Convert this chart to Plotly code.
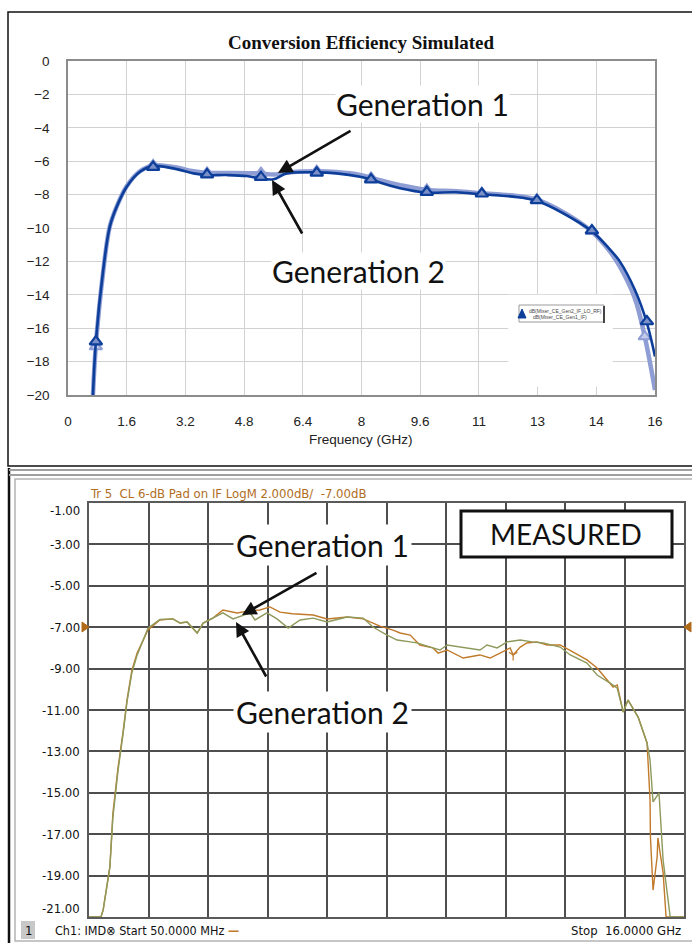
import plotly.graph_objects as go

W, H = 692, 943

# ---------------- DATA: simulated (top) ----------------
sim_gen2_f = [0.68, 0.76, 0.96, 1.14, 1.33, 1.60, 1.96, 2.32, 2.87, 3.42, 3.78, 4.32, 4.87, 5.23, 5.60, 5.96,
              6.78, 7.32, 7.96, 8.32, 8.50, 9.05, 9.77, 10.59, 11.27, 12.13, 12.77, 13.50, 14.27, 14.77, 15.04,
              15.45, 15.78, 16.0]
sim_gen2_db = [-20, -16.8, -12.5, -9.92, -8.72, -7.53, -6.63, -6.29, -6.43, -6.73, -6.83, -6.83, -6.89, -7.03,
               -7.08, -6.73, -6.67, -6.73, -6.93, -7.13, -7.28, -7.62, -7.88, -7.86, -7.98, -8.12, -8.37, -9.12,
               -10.18, -11.28, -12.0, -13.7, -15.69, -17.7]
sim_gen1_f = [0.68, 0.76, 0.96, 1.14, 1.33, 1.60, 1.96, 2.32, 2.87, 3.42, 3.78, 4.32, 4.87, 5.23, 5.60, 5.96,
              6.78, 7.32, 7.96, 8.50, 9.05, 9.77, 10.59, 11.27, 12.13, 12.77, 13.50, 14.27, 14.77, 15.04, 15.45,
              15.72, 16.0]
sim_gen1_db = [-20, -17.0, -12.6, -9.9, -8.7, -7.5, -6.6, -6.25, -6.35, -6.6, -6.7, -6.7, -6.72, -6.72, -6.8,
               -6.68, -6.6, -6.65, -6.82, -7.13, -7.43, -7.72, -7.8, -7.92, -8.06, -8.3, -9.05, -10.2, -11.4,
               -12.3, -14.2, -16.5, -19.7]
marker_f = [0.76, 2.32, 3.79, 5.26, 6.78, 8.26, 9.78, 11.28, 12.78, 14.28, 15.78]
marker_gen2_db = [-16.8, -6.35, -6.8, -6.95, -6.7, -7.1, -7.85, -7.95, -8.35, -10.15, -15.6]
marker_gen1_f = [0.76, 2.32, 3.79, 5.26, 6.78, 8.26, 9.78, 11.28, 12.78, 14.28, 15.72]
marker_gen1_db = [-17.1, -6.25, -6.7, -6.72, -6.6, -7.0, -7.72, -7.92, -8.3, -10.2, -16.5]
top_xtick_vals = [0, 1.6, 3.2, 4.8, 6.4, 8.0, 9.6, 11.2, 12.8, 14.4, 16.0]
top_xtick_text = ["0", "1.6", "3.2", "4.8", "6.4", "8", "9.6", "11", "13", "14", "16"]
top_ytick_vals = [0, -2, -4, -6, -8, -10, -12, -14, -16, -18, -20]

# ---------------- DATA: measured (bottom) ----------------
meas_gen1_f = [0.05, 0.37, 0.43, 0.61, 0.69, 0.83, 0.96, 1.07, 1.20, 1.34, 1.63, 1.95, 2.30, 2.49, 2.68, 2.95,
               3.11, 3.37, 3.64, 4.02, 4.37, 4.63, 4.90, 5.17, 5.50, 6.06, 6.43, 6.97, 7.40, 7.85, 8.20, 8.39,
               8.66, 8.92, 9.27, 9.41, 9.65, 10.08, 10.53, 10.80, 11.07, 11.34, 11.42, 11.61, 11.79, 12.06, 12.33,
               12.68, 13.03, 13.40, 13.67, 13.94, 14.10, 14.21, 14.37, 14.50, 14.77, 15.01, 15.04, 15.09, 15.10,
               15.17, 15.28, 15.30, 15.44, 15.49, 15.52, 16.0]
meas_gen1_db = [-21, -21, -20.66, -18.58, -16.0, -13.75, -12.1, -10.5, -9.07, -8.25, -7.13, -6.65, -6.60, -6.80,
                -6.75, -7.28, -6.80, -6.56, -6.17, -6.31, -6.20, -6.17, -6.02, -6.27, -6.35, -6.41, -6.60, -6.51,
                -6.60, -6.95, -7.14, -7.28, -7.38, -7.86, -8.00, -8.25, -8.10, -8.49, -8.34, -8.49, -8.25, -8.00,
                -8.34, -7.96, -7.76, -7.71, -7.86, -7.86, -8.20, -8.58, -8.97, -9.55, -9.89, -9.79, -11.10, -10.52,
                -11.34, -12.59, -13.75, -15.35, -17.14, -19.70, -18.10, -17.18, -18.87, -20.57, -21, -21]
meas_gen2_f = [0.05, 0.37, 0.43, 0.61, 0.69, 0.83, 0.96, 1.07, 1.20, 1.34, 1.63, 1.95, 2.30, 2.49, 2.68, 2.95,
               3.11, 3.37, 3.64, 3.91, 4.18, 4.37, 4.50, 4.82, 5.09, 5.39, 5.71, 6.06, 6.43, 6.97, 7.40, 7.66,
               8.04, 8.31, 8.66, 8.84, 9.27, 9.46, 9.65, 10.18, 10.53, 10.72, 10.99, 11.26, 11.61, 11.93, 12.22,
               12.68, 12.95, 13.40, 13.67, 14.02, 14.21, 14.37, 14.50, 14.77, 15.01, 15.09, 15.17, 15.33, 15.44,
               15.63, 16.0]
meas_gen2_db = [-21, -21, -20.66, -18.58, -16.2, -13.9, -12.2, -10.6, -9.2, -8.35, -7.05, -6.62, -6.60, -6.80,
                -6.75, -7.28, -6.80, -6.56, -6.31, -6.60, -6.41, -6.31, -6.65, -6.31, -6.60, -7.04, -6.65, -6.56,
                -6.75, -6.51, -6.56, -6.99, -7.38, -7.62, -7.71, -7.76, -8.00, -8.10, -7.86, -8.00, -8.10, -7.86,
                -8.00, -7.71, -7.62, -7.71, -7.76, -7.96, -8.34, -8.73, -9.31, -9.70, -9.94, -11.10, -10.52,
                -11.34, -12.59, -13.42, -15.44, -15.01, -18.25, -21.0, -21]
meas_marker_f = [11.42]
meas_marker_db = [-8.34]
bot_ytick_vals = [-1, -3, -5, -7, -9, -11, -13, -15, -17, -19, -21]
bot_ytick_text = ["-1.00", "-3.00", "-5.00", "-7.00", "-9.00", "-11.00", "-13.00", "-15.00", "-17.00", "-19.00", "-21.00"]

# ---------------- styles ----------------
DARK_BLUE = "#0C3E9A"
LIGHT_BLUE = "#8E9DD3"
ORANGE = "#C07A2A"
OLIVE = "#8D9A5B"
NARROW = "Liberation Sans Narrow, Arial Narrow, DejaVu Sans Condensed, sans-serif"
ARIAL = "Liberation Sans, Arial, sans-serif"
LABEL_FONT = "Lato, Open Sans, sans-serif"


def P(px, py):
    return px / W, 1 - py / H


fig = go.Figure()

# top traces
fig.add_trace(go.Scatter(x=sim_gen1_f, y=sim_gen1_db, mode="lines", line=dict(color=LIGHT_BLUE, width=4.5, shape="spline"),
                         xaxis="x", yaxis="y", showlegend=False))
fig.add_trace(go.Scatter(x=marker_gen1_f, y=marker_gen1_db, mode="markers",
                         marker=dict(symbol="triangle-up", size=11, color="#C2CBEA", line=dict(color=LIGHT_BLUE, width=2)),
                         xaxis="x", yaxis="y", showlegend=False))
fig.add_trace(go.Scatter(x=sim_gen2_f, y=sim_gen2_db, mode="lines", line=dict(color=DARK_BLUE, width=2.6, shape="spline"),
                         xaxis="x", yaxis="y", showlegend=False))
fig.add_trace(go.Scatter(x=marker_f, y=marker_gen2_db, mode="markers",
                         marker=dict(symbol="triangle-up", size=11, color="#7C90C8", line=dict(color=DARK_BLUE, width=2.2)),
                         xaxis="x", yaxis="y", showlegend=False))

# bottom traces
fig.add_trace(go.Scatter(x=meas_gen1_f, y=meas_gen1_db, mode="lines", line=dict(color=ORANGE, width=1.4),
                         xaxis="x2", yaxis="y2", showlegend=False, cliponaxis=False))
fig.add_trace(go.Scatter(x=meas_gen2_f, y=meas_gen2_db, mode="lines", line=dict(color=OLIVE, width=1.4),
                         xaxis="x2", yaxis="y2", showlegend=False, cliponaxis=False))
fig.add_trace(go.Scatter(x=meas_marker_f, y=meas_marker_db, mode="markers",
                         marker=dict(symbol="y-down-open", size=7, color=ORANGE, line=dict(color=ORANGE, width=1.2)),
                         xaxis="x2", yaxis="y2", showlegend=False))

x0, y0 = P(68, 395)
x1, y1 = P(655, 61)
bx0, by0 = P(89, 917)
bx1, by1 = P(684, 503)

fig.update_layout(
    width=W, height=H, margin=dict(l=0, r=0, t=0, b=0, pad=0, autoexpand=False),
    paper_bgcolor="white", plot_bgcolor="white", showlegend=False,
    xaxis=dict(domain=[x0, x1], range=[0, 16], tickvals=top_xtick_vals, ticktext=top_xtick_text,
               showgrid=True, gridcolor="#D2D2D2", gridwidth=1, showline=True, mirror=True, automargin=False,
               linecolor="#8C8C8C", linewidth=1.5, zeroline=False, ticks="", ticklabelstandoff=13,
               tickfont=dict(family=ARIAL, size=13.5, color="#222"), anchor="y"),
    yaxis=dict(domain=[y0, y1], range=[-20, 0], tickvals=top_ytick_vals, automargin=False,
               showgrid=True, gridcolor="#D2D2D2", gridwidth=1, showline=True, mirror=True,
               linecolor="#8C8C8C", linewidth=1.5, zeroline=False, ticks="", ticklabelstandoff=14,
               tickfont=dict(family=ARIAL, size=13.5, color="#222"), anchor="x"),
    xaxis2=dict(domain=[bx0, bx1], range=[0.05, 16], tick0=0.05, dtick=1.595, showticklabels=False,
                showgrid=True, gridcolor="#4E4E4E", gridwidth=1.5, showline=True, mirror=True, automargin=False,
                linecolor="#5A5A5A", linewidth=1.5, zeroline=False, ticks="", anchor="y2"),
    yaxis2=dict(domain=[by0, by1], range=[-21, -1], tick0=-1, dtick=2, showticklabels=False,
                showgrid=True, gridcolor="#4E4E4E", gridwidth=1.5, showline=True, mirror=True, automargin=False,
                linecolor="#5A5A5A", linewidth=1.5, zeroline=False, ticks="", anchor="x2"),
)

shapes = []
ann = []


def rect(px0, py0, px1, py1, **kw):
    a, b = P(px0, py1)
    c, d = P(px1, py0)
    shapes.append(dict(type="rect", xref="paper", yref="paper", x0=a, y0=b, x1=c, y1=d, **kw))


def line(px0, py0, px1, py1, color, width):
    a, b = P(px0, py0)
    c, d = P(px1, py1)
    shapes.append(dict(type="line", xref="paper", yref="paper", x0=a, y0=b, x1=c, y1=d,
                       line=dict(color=color, width=width)))


def tri(pts, color):
    path = "M " + " L ".join(f"{P(x, y)[0]:.5f},{P(x, y)[1]:.5f}" for x, y in pts) + " Z"
    shapes.append(dict(type="path", xref="paper", yref="paper", path=path, fillcolor=color,
                       line=dict(color=color, width=1)))


# top panel frame
rect(8, 12, 700, 466, line=dict(color="#111", width=1.5), fillcolor="rgba(0,0,0,0)", layer="below")
# white patch behind legend (covers grid)
shapes.append(dict(type="rect", xref="x", yref="y", x0=12.0, x1=14.85, y0=-19.5, y1=-14.0,
                   fillcolor="white", line=dict(width=0), layer="between"))
# legend box
rect(519, 305, 604, 322, line=dict(color="#9A9A9A", width=1), fillcolor="white")
line(604, 306, 604, 323, "#444", 2)
tri([(518, 318), (526, 318), (522, 309)], DARK_BLUE)
ann.append(dict(x=P(527, 311)[0], y=P(527, 311)[1], xref="paper", yref="paper", xanchor="left", yanchor="middle",
                text="dB(Mixer_CE_Gen2_IF_LO_RF)", showarrow=False, font=dict(size=5, color="#444", family=ARIAL)))
ann.append(dict(x=P(531, 317)[0], y=P(531, 317)[1], xref="paper", yref="paper", xanchor="left", yanchor="middle",
                text="dB(Mixer_CE_Gen1_IF)", showarrow=False, font=dict(size=5, color="#444", family=ARIAL)))

# bottom panel frame
line(9, 468, 9, 943, "#111", 2.5)
line(9, 470, 700, 470, "#A0A0A0", 2)
line(9, 475, 700, 475, "#A0A0A0", 2)
rect(15, 479, 700, 941, line=dict(color="#B4B4B4", width=1.5), fillcolor="rgba(0,0,0,0)", layer="below")
# reference level triangles
tri([(82, 622), (82, 632), (89, 627)], "#B06A18")
tri([(691, 622), (691, 632), (684, 627)], "#B06A18")
# MEASURED box
rect(461, 511, 672, 557, line=dict(color="#111", width=3), fillcolor="white")
# footer box "1"
rect(21, 921, 35, 939, line=dict(color="#C0C0C0", width=0), fillcolor="#C8C8C8")


def text(px, py, s, size, family, color="#111", xanchor="center", bold=False, bg=None, pad=1):
    x, y = P(px, py)
    d = dict(x=x, y=y, xref="paper", yref="paper", xanchor=xanchor, yanchor="middle",
             text=(f"<b>{s}</b>" if bold else s), showarrow=False,
             font=dict(size=size, family=family, color=color))
    if bg:
        d.update(bgcolor=bg, borderpad=pad)
    ann.append(d)


text(361, 42, "Conversion Efficiency Simulated", 19, "Liberation Serif, Times New Roman, serif", bold=True)
text(361, 440, "Frequency (GHz)", 13.5, ARIAL, color="#222")
text(423, 104, "Generation 1", 30, LABEL_FONT, bg="white", pad=0)
text(358, 271, "Generation 2", 30, LABEL_FONT, bg="white", pad=0)
text(322, 545, "Generation 1", 30, LABEL_FONT, bg="white", pad=2)
text(322, 712, "Generation 2", 30, LABEL_FONT, bg="white", pad=2)
text(566, 534, "MEASURED", 28, LABEL_FONT)

text(88, 493, "Tr 5\u00a0\u00a0CL 6-dB Pad on IF LogM 2.000dB/\u00a0\u00a0-7.00dB", 13, NARROW,
     color="#B06E1E", xanchor="left")
text(28, 930, "1", 13, NARROW)
text(53, 930, f"Ch1: IMD\u2297 Start 50.0000 MHz <span style='color:{ORANGE}'><b>\u2014</b></span>", 12.5, NARROW,
     xanchor="left")
text(683, 930, "Stop\u00a0 16.0000 GHz", 13, NARROW, xanchor="right")

# bottom y tick labels
for v, t in zip(bot_ytick_vals, bot_ytick_text):
    ys = 0
    if v == -1:
        ys = -8
    elif v == -21:
        ys = 9
    ann.append(dict(x=P(82, 0)[0], y=v, xref="paper", yref="y2", xanchor="right", yanchor="middle",
                    text=t, showarrow=False, yshift=ys, font=dict(size=13, family=NARROW, color="#111")))


def arrow(hx, hy, tx, ty):
    x, y = P(hx, hy)
    ann.append(dict(x=x, y=y, xref="paper", yref="paper", ax=tx - hx, ay=ty - hy, axref="pixel", ayref="pixel",
                    text="", showarrow=True, arrowhead=2, arrowsize=1.1, arrowwidth=2.6, arrowcolor="#111",
                    standoff=0))


arrow(278, 173, 352, 130)
arrow(272, 180, 303, 235)
arrow(242, 615, 318, 572)
arrow(236, 622, 267, 678)

fig.update_layout(shapes=shapes, annotations=ann)
fig.write_html("out.html", config={"displayModeBar": False},
               post_script="document.body.style.margin='0';document.body.style.overflow='hidden';")
